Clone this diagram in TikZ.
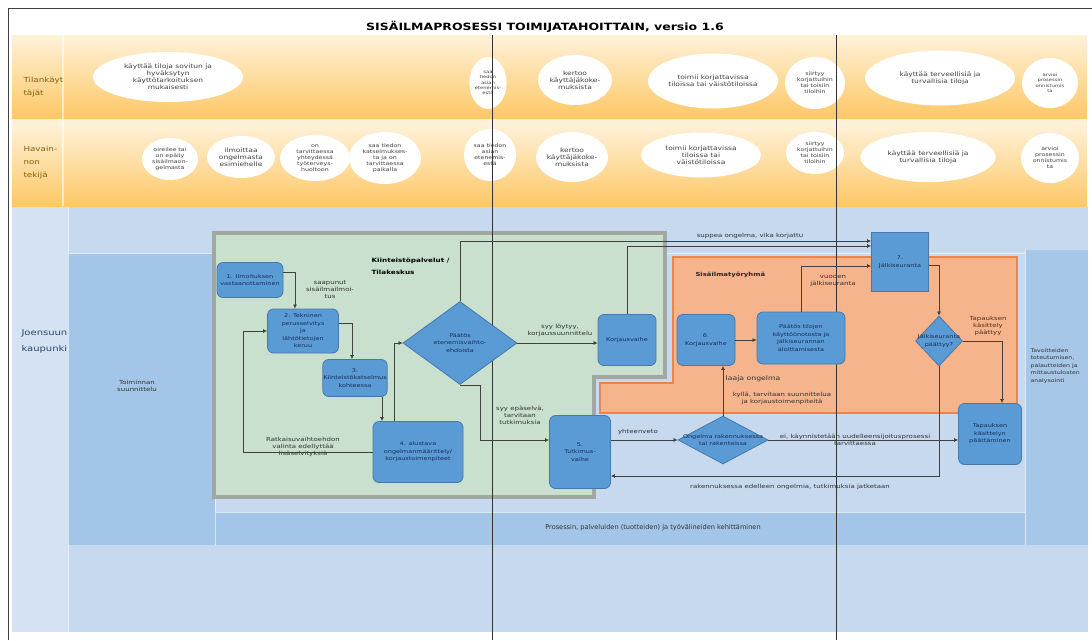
\documentclass[tikz,border=0pt]{standalone}
\usepackage{fontspec}
\setmainfont{DejaVu Sans}[FakeStretch=1.25]
\newfontfamily\plainsans{DejaVu Sans}
\usepackage{tikz}
\usetikzlibrary{shapes.geometric,arrows.meta,positioning,calc}
\usepackage{xcolor}
\definecolor{BandTop}{RGB}{254,241,218}
\definecolor{BandBottom}{RGB}{253,200,102}
\definecolor{BandLabel}{RGB}{127,96,10}
\definecolor{CityBlue}{RGB}{198,217,239}
\definecolor{LaneBlue}{RGB}{163,197,231}
\definecolor{StepBlue}{RGB}{91,155,213}
\definecolor{StepEdge}{RGB}{70,120,170}
\definecolor{StepText}{RGB}{24,46,84}
\definecolor{ServiceGreen}{RGB}{200,224,205}
\definecolor{ServiceEdge}{RGB}{160,168,160}
\definecolor{GroupOrange}{RGB}{245,180,140}
\definecolor{GroupEdge}{RGB}{240,132,72}
\definecolor{CityText}{RGB}{40,70,115}

\newcommand{\titlefont}{\fontsize{10}{12}\selectfont\bfseries}
\newcommand{\rowfont}{\fontsize{7}{13}\selectfont}
\newcommand{\cityfont}{\fontsize{8}{16}\selectfont}
\newcommand{\ovalfont}{\fontsize{6}{7}\selectfont}
\newcommand{\smallovalfont}{\fontsize{5}{6}\selectfont}
\newcommand{\tinyovalfont}{\fontsize{4.2}{5.2}\selectfont}
\newcommand{\stepfont}{\fontsize{5.2}{7.5}\selectfont}
\newcommand{\flowfont}{\fontsize{5.6}{7}\selectfont}

\begin{document}
\begin{tikzpicture}[x=1pt, y=-1pt, every node/.style={align=center},
  oval/.style={ellipse, fill=white, inner sep=0pt, font=\ovalfont, text=black!75},
  smalloval/.style={oval, font=\smallovalfont},
  tinyoval/.style={oval, font=\tinyovalfont},
  stepbox/.style={rectangle, rounded corners=6pt, draw=StepEdge, line width=0.8pt, fill=StepBlue, font=\stepfont, text=StepText, inner sep=0.5pt},
  choice/.style={diamond, draw=StepEdge, line width=0.8pt, fill=StepBlue, inner sep=0pt},
  choicetext/.style={font=\stepfont, text=StepText},
  flow/.style={-{Latex[length=4pt,width=4pt]}, line width=0.7pt, draw=black!75},
  flowlabel/.style={font=\flowfont, text=black!80}]
  \useasboundingbox (0,0) rectangle (1092,640);
  \fill[white] (0,0) rectangle (1092,640);
  % Frame and title
  \draw[black!75, line width=0.8pt] (8,640) -- (8,8) -- (1092,8);
  \node[font=\titlefont] (title) at (545,27) {SISÄILMAPROSESSI TOIMIJATAHOITTAIN, versio 1.6};

  % Orange band: users and observer
  \fill[BandTop] (12,35) rectangle (1087,206);
  \shade[top color=BandTop, bottom color=BandBottom] (12,35) rectangle (1087,118);
  \shade[top color=BandTop, bottom color=BandBottom] (12,123) rectangle (1087,206);
  \draw[white, opacity=0.6, line width=1.5pt] (63,35) -- (63,206);
  \node[font=\rowfont, text=BandLabel, align=left, anchor=west] (userlbl) at (20,87) {Tilankäyt\\täjät};
  \node[font=\rowfont, text=BandLabel, align=left, anchor=west] (obslbl) at (20,163) {Havain-\\non\\tekijä};

  % Blue area: city
  \fill[CityBlue] (12,207) rectangle (1088,632);
  \fill[CityBlue!75!white] (12,207) rectangle (68,632);
  \fill[LaneBlue] (68,253) rectangle (215,545);
  \fill[LaneBlue] (215,512) rectangle (1025,545);
  \fill[LaneBlue!90!CityBlue] (1025,250) rectangle (1088,545);
  \draw[white, opacity=0.6, line width=1pt] (68,207) -- (68,632) (215,253) -- (215,545)
    (1025,250) -- (1025,545) (68,253) -- (1025,253) (215,512) -- (1025,512);
  \node[font=\cityfont, text=CityText, align=left, anchor=west] (city) at (18,341) {Joensuun\\kaupunki};
  \node[flowlabel] (plan) at (137,386) {Toiminnan\\suunnittelu};
  \node[font=\plainsans\fontsize{6.6}{8}\selectfont, text=black!80] (develop) at (653,528) {Prosessin, palveluiden (tuotteiden) ja työvälineiden kehittäminen};
  \node[font=\fontsize{5}{7.6}\selectfont, text=black!80, align=left, anchor=west] (analyse) at (1027,366) {Tavoitteiden\\toteutumisen,\\palautteiden ja\\mittaustulosten\\analysointi};

  % Kiinteistöpalvelut and Sisäilmatyöryhmä areas
  \draw[ServiceEdge, line width=3.5pt, fill=ServiceGreen] (214,233) -- (665,233) -- (665,377) -- (594,377) -- (594,497) -- (214,497) -- cycle;
  \draw[GroupEdge, line width=2.5pt, fill=GroupOrange] (673,257) -- (1017,257) -- (1017,413) -- (600,413) -- (600,383) -- (673,383) -- cycle;
  \node[font=\fontsize{5.8}{12}\selectfont\bfseries, align=left, anchor=west] (service) at (368,266) {Kiinteistöpalvelut /\\Tilakeskus};
  \node[font=\fontsize{5.5}{7}\selectfont\bfseries, text=black!85, anchor=west] (group) at (692,275) {Sisäilmatyöryhmä};

  % Ellipses, first row
  \node[oval, minimum width=150pt, minimum height=50pt] (u1) at (168,77) {käyttää tiloja sovitun ja\\hyväksytyn\\käyttötarkoituksen\\mukaisesti};
  \node[tinyoval, minimum width=36pt, minimum height=52pt] (u2) at (488,83) {saa\\tiedon\\asian\\etenemis-\\estä};
  \node[oval, minimum width=74pt, minimum height=50pt] (u3) at (575,80) {kertoo\\käyttäjäkoke-\\muksista};
  \node[oval, minimum width=130pt, minimum height=55pt] (u4) at (713,81) {toimii korjattavissa\\tiloissa tai väistötiloissa};
  \node[smalloval, minimum width=60pt, minimum height=52pt] (u5) at (815,83) {siirtyy\\korjattuihin\\tai toisiin\\tiloihin};
  \node[oval, minimum width=150pt, minimum height=55pt] (u6) at (940,78) {käyttää terveellisiä ja\\turvallisia tiloja};
  \node[tinyoval, minimum width=56pt, minimum height=50pt] (u7) at (1050,83) {arvioi\\prosessin\\onnistumis\\ta};
  % Ellipses, second row
  \node[smalloval, minimum width=56pt, minimum height=42pt] (h1) at (170,159) {oireilee tai\\on epäily\\sisäilmaon-\\gelmasta};
  \node[oval, minimum width=68pt, minimum height=42pt] (h2) at (241,157) {ilmoittaa\\ongelmasta\\esimiehelle};
  \node[smalloval, minimum width=70pt, minimum height=46pt] (h3) at (315,158) {on\\tarvittaessa\\yhteydessä\\työterveys-\\huoltoon};
  \node[smalloval, minimum width=72pt, minimum height=52pt] (h4) at (385,158) {saa tiedon\\katselmukses-\\ta ja on\\tarvittaessa\\paikalla};
  \node[smalloval, minimum width=52pt, minimum height=52pt] (h5) at (490,155) {saa tiedon\\asian\\etenemis-\\estä};
  \node[oval, minimum width=72pt, minimum height=50pt] (h6) at (572,157) {kertoo\\käyttäjäkoke-\\muksista};
  \node[oval, minimum width=120pt, minimum height=45pt] (h7) at (701,155) {toimii korjattavissa\\tiloissa tai\\väistötiloissa};
  \node[smalloval, minimum width=58pt, minimum height=42pt] (h8) at (815,153) {siirtyy\\korjattuihin\\tai toisiin\\tiloihin};
  \node[oval, minimum width=135pt, minimum height=50pt] (h9) at (928,157) {käyttää terveellisiä ja\\turvallisia tiloja};
  \node[smalloval, minimum width=58pt, minimum height=50pt] (h10) at (1050,158) {arvioi\\prosessin\\onnistumis\\ta};

  % Phase lines
  \draw[black!80, line width=0.9pt] (492,35) -- (492,640);
  \draw[black!80, line width=0.9pt] (836,35) -- (836,640);

  % Process steps
  \node[stepbox, minimum width=66pt, minimum height=35pt] (n1) at (250,280) {1. Ilmoituksen\\vastaanottaminen};
  \node[stepbox, minimum width=71pt, minimum height=44pt] (n2) at (303,331) {2. Tekninen\\perusselvitys\\ja\\lähtötietojen\\keruu};
  \node[stepbox, minimum width=63pt, minimum height=37pt] (n3) at (355,378) {3.\\Kiinteistökatselmus\\kohteessa};
  \node[stepbox, minimum width=90pt, minimum height=61pt] (n4) at (418,452) {4. alustava\\ongelmanmäärittely/\\korjaustoimenpiteet};
  \node[choice, minimum width=114pt, minimum height=83pt] (d1) at (460,343) {};
  \node[choicetext] (d1t) at (d1) {Päätös\\etenemisvaihto-\\ehdoista};
  \node[stepbox, minimum width=58pt, minimum height=51pt] (kv) at (627,340) {Korjausvaihe};
  \node[stepbox, minimum width=61pt, minimum height=73pt] (n5) at (580,452) {5.\\Tutkimus-\\vaihe};
  \node[choice, minimum width=90pt, minimum height=48pt] (d2) at (723,440) {};
  \node[choicetext] (d2t) at (d2) {Ongelma rakennuksessa\\tai rakenteissa};
  \node[stepbox, minimum width=58pt, minimum height=51pt] (n6) at (706,340) {6.\\Korjausvaihe};
  \node[stepbox, minimum width=88pt, minimum height=52pt] (np) at (801,338) {Päätös tilojen\\käyttöönotosta ja\\jälkiseurannan\\aloittamisesta};
  \node[stepbox, rounded corners=0pt, minimum width=57pt, minimum height=59pt] (n7) at (900,262) {7.\\Jälkiseuranta};
  \node[choice, minimum width=47pt, minimum height=50pt] (d3) at (939,341) {};
  \node[choicetext] (d3t) at (d3) {Jälkiseuranta\\päättyy?};
  \node[stepbox, minimum width=63pt, minimum height=61pt] (ne) at (990,434) {Tapauksen\\käsittelyn\\päättäminen};

  % Connectors
  \draw[flow] ([yshift=8pt]n1.east) -| ([xshift=-8pt]n2.north);
  \draw[flow] ([yshift=8pt]n2.east) -| ([xshift=-3pt]n3.north);
  \draw[flow] ([xshift=27pt]n3.south) -- ([xshift=-36pt]n4.north);
  \draw[flow] ([xshift=-24pt]n4.north) |- (d1.west);
  \draw[flow] (n4.west) -- ++(-129,0) |- (n2.west);
  \draw[flow] (d1.north) |- ([yshift=21pt]n7.west);
  \draw[flow] (kv.north) |- ([yshift=16pt]n7.west);
  \draw[flow] (d1.east) -- (d1.east -| kv.west);
  \draw[flow] (d1.south) -- ++(20,0) |- ([yshift=12pt]n5.west);
  \draw[flow] ([yshift=12pt]n5.east) -- (d2.west);
  \draw[flow] (d2.east) -- (d2.east -| ne.west);
  \draw[flow] (d2.north) -- (d2.north |- n6.south);
  \draw[flow] (n6.east) -- (n6.east -| np.west);
  \draw[flow] (np.north) |- ([yshift=-4pt]n7.west);
  \draw[flow] ([yshift=-3pt]n7.east) -| (d3.north);
  \draw[flow] (d3.east) -| ([xshift=12pt]ne.north);
  \draw[flow] (d3.south) |- ([yshift=-24pt]n5.east);

  % Connector labels
  \node[flowlabel] (l1) at (330,290) {saapunut\\sisäilmailmoi-\\tus};
  \node[flowlabel] (l2) at (303,447) {Ratkaisuvaihtoehdon\\valinta edellyttää\\lisäselvityksiä};
  \node[flowlabel] (l3) at (750,236) {suppea ongelma, vika korjattu};
  \node[flowlabel] (l4) at (560,330) {syy löytyy,\\korjaussuunnittelu};
  \node[flowlabel] (l5) at (520,415) {syy epäselvä,\\tarvitaan\\tutkimuksia};
  \node[flowlabel] (l6) at (638,432) {yhteenveto};
  \node[flowlabel] (l7) at (855,440) {ei, käynnistetään uudelleensijoitusprosessi\\tarvittaessa};
  \node[flowlabel, font=\fontsize{6.2}{7}\selectfont] (l8) at (753,379) {laaja ongelma};
  \node[flowlabel] (l9) at (782,398) {kyllä, tarvitaan suunnittelua\\ja korjaustoimenpiteitä};
  \node[flowlabel] (l10) at (833,280) {vuoden\\jälkiseuranta};
  \node[flowlabel, text=black!65!GroupEdge] (l11) at (988,326) {Tapauksen\\käsittely\\päättyy};
  \node[flowlabel] (l12) at (790,487) {rakennuksessa edelleen ongelmia, tutkimuksia jatketaan};
\end{tikzpicture}
\end{document}
